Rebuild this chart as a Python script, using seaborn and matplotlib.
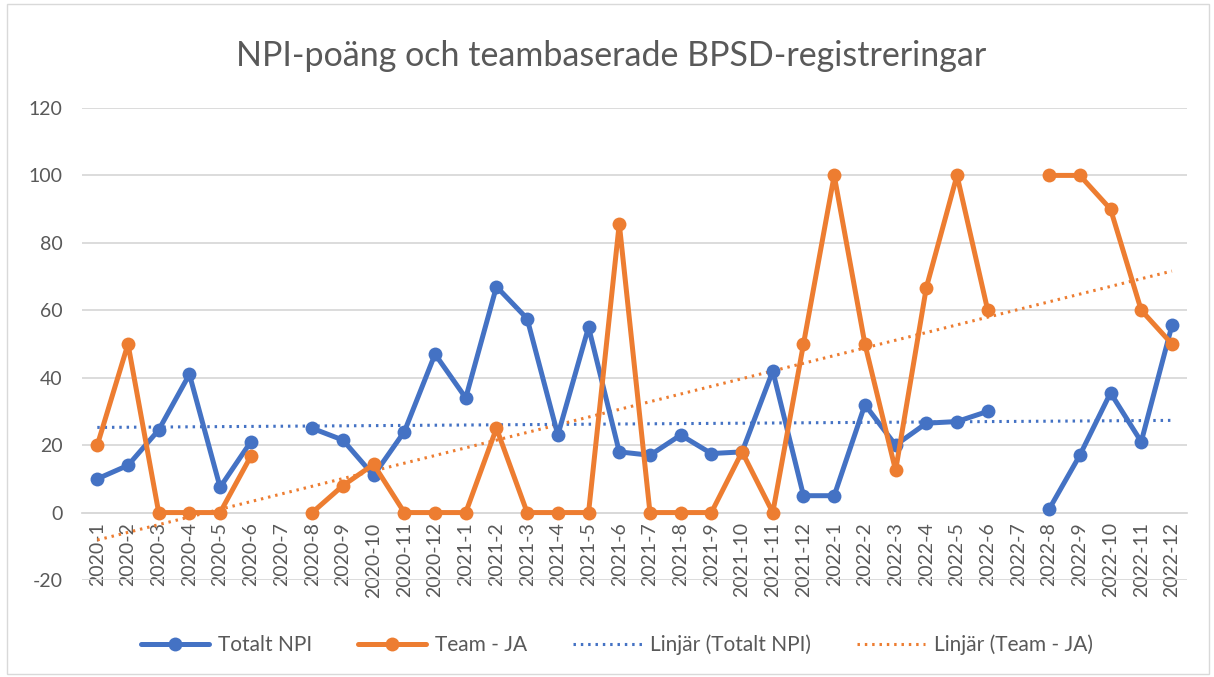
import numpy as np
import pandas as pd
import matplotlib
matplotlib.use("Agg")
import matplotlib.pyplot as plt
from matplotlib.lines import Line2D
from matplotlib.patches import Rectangle
import seaborn as sns

# Data
months = [f"{y}-{m}" for y in (2020, 2021, 2022) for m in range(1, 13)]
totalt_npi = [10, 14, 24.5, 41, 7.5, 21, np.nan, 25, 21.5, 11, 24, 47,
              34, 67, 57.5, 23, 55, 18, 17, 23, 17.5, 18, 42, 5,
              5, 32, 20, 26.5, 27, 30, np.nan, 1, 17, 35.5, 21, 55.5]
team_ja = [20, 50, 0, 0, 0, 16.7, np.nan, 0, 8, 14.3, 0, 0,
           0, 25, 0, 0, 0, 85.7, 0, 0, 0, 18, 0, 50,
           100, 50, 12.5, 66.7, 100, 60, np.nan, 100, 100, 90, 60, 50]

BLUE = "#4472C4"
ORANGE = "#ED7D31"
GRAY = "#595959"

df = pd.DataFrame({"x": np.arange(len(months)), "manad": months,
                   "npi": totalt_npi, "team": team_ja})

sns.set_theme(style="white")
plt.rcParams["font.family"] = ["Lato", "DejaVu Sans"]
plt.rcParams["axes.unicode_minus"] = False

fig = plt.figure(figsize=(12.14, 6.77), dpi=100)
ax = fig.add_axes([0.0675, 0.1433, 0.9105, 0.6972])


def draw_segments(col, color):
    # dela upp serien vid saknade värden så att linjen bryts
    seg = df[col].isna().cumsum()
    for _, part in df[df[col].notna()].groupby(seg[df[col].notna()]):
        sns.lineplot(data=part, x="x", y=col, ax=ax, color=color, lw=3.6,
                     marker="o", markersize=10, markeredgewidth=0, zorder=3)


draw_segments("npi", BLUE)
draw_segments("team", ORANGE)

# linjära trendlinjer (Excel-stil)
for col, color in (("npi", BLUE), ("team", ORANGE)):
    ok = df[col].notna()
    k, m = np.polyfit(df.loc[ok, "x"], df.loc[ok, col], 1)
    ax.plot(df["x"], k * df["x"] + m, color=color, lw=2.2, ls=(0, (0.8, 1.6)),
            zorder=2)

for s in ("top", "right", "left"):
    ax.spines[s].set_visible(False)
ax.spines["bottom"].set_position(("data", 0))
ax.spines["bottom"].set_color("#d9d9d9")
ax.spines["bottom"].set_linewidth(1.3)

ax.set_xlim(-0.5, len(months) - 0.5)
ax.set_ylim(-20, 120)
ax.set_yticks(range(-20, 121, 20))
ax.yaxis.grid(True, color="#d9d9d9", lw=1.3)
ax.set_axisbelow(True)
ax.set_xticks(df["x"])
ax.set_xticklabels(months, rotation=90, fontsize=14, color=GRAY)
ax.tick_params(axis="y", labelsize=14, labelcolor=GRAY, length=0, pad=14)
ax.tick_params(axis="x", length=0, pad=7)
ax.set_xlabel("")
ax.set_ylabel("")

fig.text(0.503, 0.917, "NPI-poäng och teambaserade BPSD-registreringar",
         ha="center", va="center", fontsize=24.5, color=GRAY)

handles = [
    Line2D([], [], color=BLUE, lw=3.6, marker="o", markersize=10, markeredgewidth=0),
    Line2D([], [], color=ORANGE, lw=3.6, marker="o", markersize=10, markeredgewidth=0),
    Line2D([], [], color=BLUE, lw=2.2, ls=(0, (0.8, 1.6))),
    Line2D([], [], color=ORANGE, lw=2.2, ls=(0, (0.8, 1.6))),
]
labels = ["Totalt NPI", "Team - JA", "Linjär (Totalt NPI)", "Linjär (Team - JA)"]
fig.legend(handles, labels, loc="center", bbox_to_anchor=(0.508, 0.047), ncol=4,
           frameon=False, fontsize=15, handlelength=3.3, handletextpad=0.4,
           columnspacing=2.2, labelcolor=GRAY)

fig.patches.append(Rectangle((0.006, 0.004), 0.99, 0.99, transform=fig.transFigure,
                             fill=False, edgecolor="#d9d9d9", lw=1))

fig.savefig("out.png", dpi=100)
